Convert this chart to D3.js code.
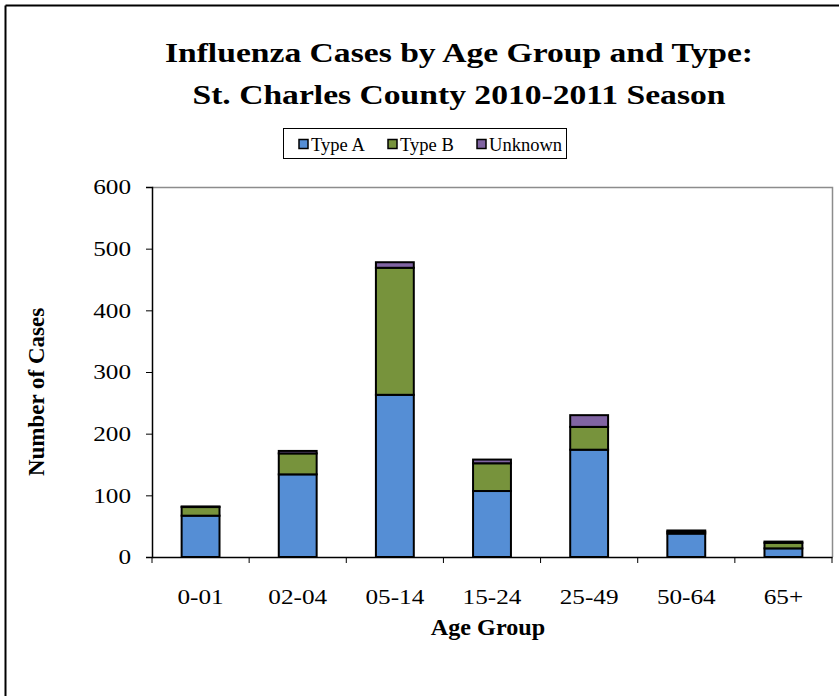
<!DOCTYPE html>
<html>
<head>
<meta charset="utf-8">
<script src="https://cdn.jsdelivr.net/npm/d3@7"></script>
<style>
  html, body { margin: 0; padding: 0; background: #fff; }
  svg { display: block; }
</style>
</head>
<body>
<svg id="chart" width="839" height="696"></svg>
<script>
const categories = ["0-01", "02-04", "05-14", "15-24", "25-49", "50-64", "65+"];
const typeA   = [67, 134, 263, 107, 174, 38, 14];
const typeB   = [14, 34, 206, 45, 37, 3, 9];
const unknown = [1, 4, 9, 6, 19, 2, 2];
const seriesNames = ["Type A", "Type B", "Unknown"];
const seriesColors = ["#558ED5", "#77933C", "#8064A2"];
const yTicks = [0, 100, 200, 300, 400, 500, 600];

const svg = d3.select("#chart");
const font = "'Liberation Serif', 'Times New Roman', serif";

function stretch(sel, k) {
  sel.each(function () {
    const w = this.getComputedTextLength();
    d3.select(this).attr("textLength", w * k).attr("lengthAdjust", "spacingAndGlyphs");
  });
}

// outer frame (top and left edges visible)
svg.append("line").attr("x1", 5.5).attr("y1", 5.5).attr("x2", 839).attr("y2", 5.5)
  .attr("stroke", "#000").attr("stroke-width", 2);
svg.append("line").attr("x1", 5.5).attr("y1", 5.5).attr("x2", 5.5).attr("y2", 696)
  .attr("stroke", "#000").attr("stroke-width", 2);

const plot = { left: 152, right: 832, top: 187, bottom: 557 };

const x = d3.scaleBand().domain(categories).range([plot.left, plot.right]).paddingInner(0).paddingOuter(0);
const y = d3.scaleLinear().domain([0, 600]).range([plot.bottom, plot.top]);

// plot area border (top/right gray)
svg.append("path")
  .attr("d", `M${plot.left},${plot.top + 0.5}H${plot.right + 0.5}V${plot.bottom}`)
  .attr("fill", "none").attr("stroke", "#8c8c8c").attr("stroke-width", 1.5);

// stacked bars
const rows = categories.map((c, i) => ({ cat: c, "Type A": typeA[i], "Type B": typeB[i], "Unknown": unknown[i] }));
const stack = d3.stack().keys(seriesNames)(rows);
const barW = x.bandwidth() * 0.39;

stack.forEach((layer, li) => {
  svg.append("g").selectAll("rect").data(layer).join("rect")
    .attr("x", d => x(d.data.cat) + (x.bandwidth() - barW) / 2)
    .attr("y", d => y(d[1]))
    .attr("width", barW)
    .attr("height", d => Math.max(0, y(d[0]) - y(d[1])))
    .attr("fill", seriesColors[li])
    .attr("stroke", "#000")
    .attr("stroke-width", 2);
});

// y axis
const yAxis = svg.append("g").attr("transform", `translate(${plot.left},0)`)
  .call(d3.axisLeft(y).tickValues(yTicks).tickSize(6).tickPadding(15).tickFormat(d3.format("d")));
yAxis.select(".domain").attr("stroke", "#000").attr("stroke-width", 1.5);
yAxis.selectAll(".tick line").attr("stroke", "#000");
yAxis.selectAll("text").attr("font-family", font).attr("font-size", 21).attr("fill", "#000");
stretch(yAxis.selectAll("text"), 1.2);

// x axis
const xAxis = svg.append("g").attr("transform", `translate(0,${plot.bottom})`)
  .call(d3.axisBottom(x).tickSize(0).tickPadding(32));
xAxis.select(".domain").attr("stroke", "#000").attr("stroke-width", 1.5);
xAxis.selectAll("text").attr("font-family", font).attr("font-size", 21).attr("fill", "#000");
stretch(xAxis.selectAll("text"), 1.2);
// boundary tick marks
const bounds = categories.map(c => x(c)).concat([plot.right]);
xAxis.selectAll("line.bound").data(bounds).join("line").attr("class", "bound")
  .attr("x1", d => d).attr("x2", d => d).attr("y1", 0).attr("y2", 6)
  .attr("stroke", "#000").attr("stroke-width", 1);

// title
const title = svg.append("text").attr("text-anchor", "middle")
  .attr("font-family", font).attr("font-weight", "bold").attr("font-size", 28).attr("fill", "#000");
title.append("tspan").attr("x", 459).attr("y", 62).text("Influenza Cases by Age Group and Type:");
title.append("tspan").attr("x", 459).attr("y", 104).text("St. Charles County 2010-2011 Season");
stretch(title.selectAll("tspan"), 1.2);

// axis titles
const xt = svg.append("text").attr("x", 488).attr("y", 635).attr("text-anchor", "middle")
  .attr("font-family", font).attr("font-weight", "bold").attr("font-size", 23).text("Age Group");
stretch(xt, 1.05);
svg.append("text").attr("transform", "translate(44,392) rotate(-90)").attr("text-anchor", "middle")
  .attr("font-family", font).attr("font-weight", "bold").attr("font-size", 23).text("Number of Cases");

// legend
const lg = svg.append("g");
lg.append("rect").attr("x", 283.5).attr("y", 128.5).attr("width", 283).attr("height", 30)
  .attr("fill", "#fff").attr("stroke", "#000").attr("stroke-width", 1);
const legendX = [299, 388, 477];
seriesNames.forEach((n, i) => {
  lg.append("rect").attr("x", legendX[i]).attr("y", 139.5).attr("width", 9).attr("height", 9)
    .attr("fill", seriesColors[i]).attr("stroke", "#000").attr("stroke-width", 1.5);
  const t = lg.append("text").attr("x", legendX[i] + 12).attr("y", 151)
    .attr("font-family", font).attr("font-size", 18).attr("fill", "#000").text(n);
  stretch(t, 1.03);
});
</script>
</body>
</html>
